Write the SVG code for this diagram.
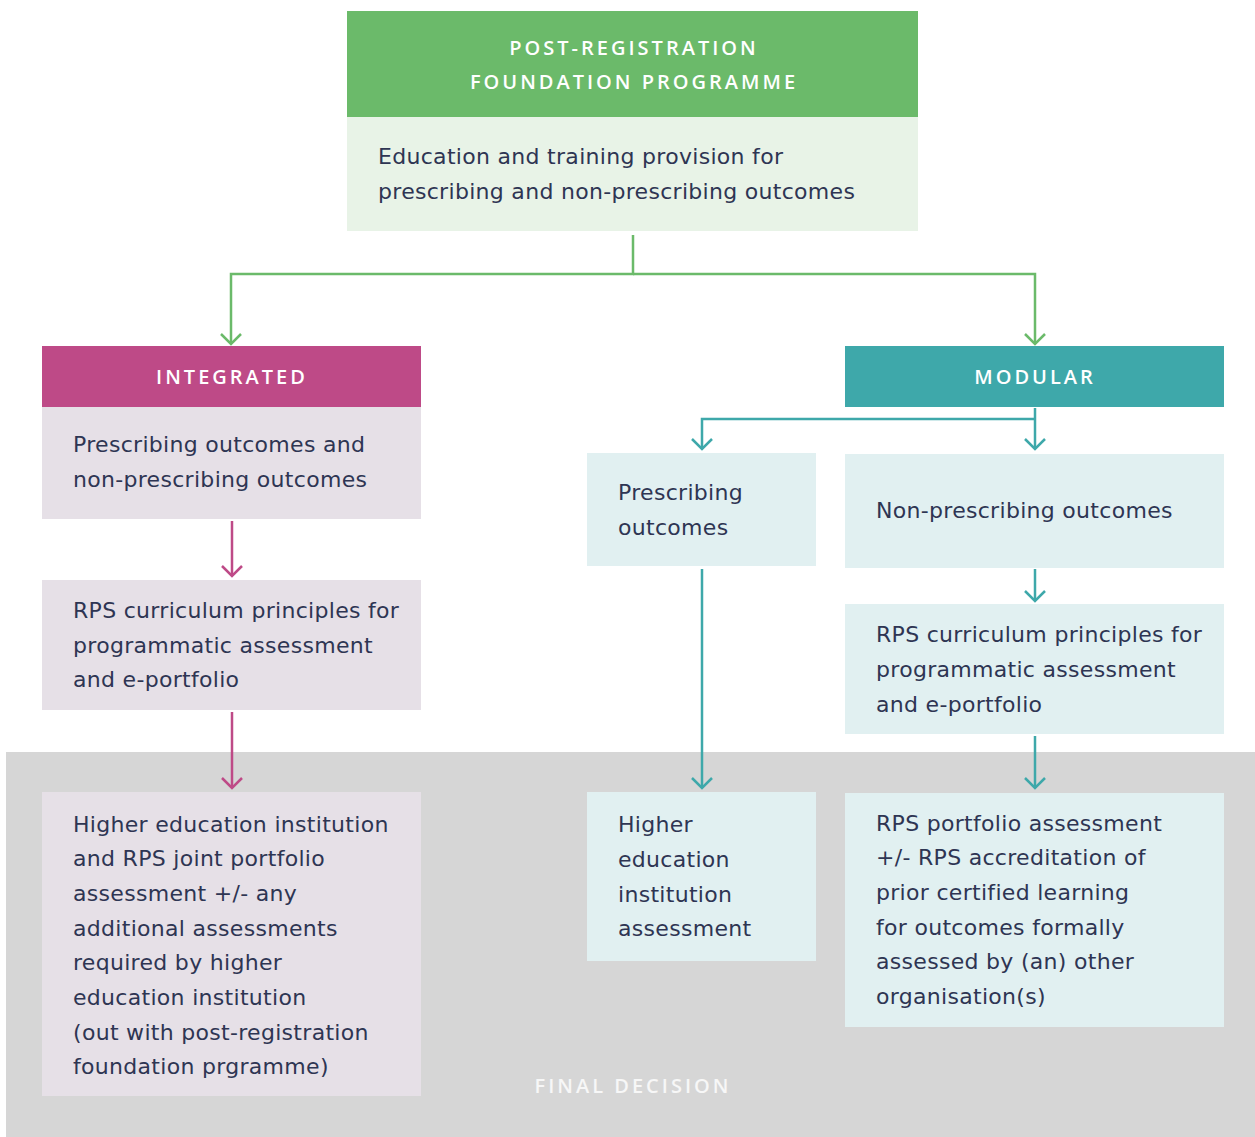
<svg xmlns="http://www.w3.org/2000/svg" width="1255" height="1137" viewBox="0 0 1255 1137">
<defs>
<style>
.t{font-family:"DejaVu Sans","Open Sans",sans-serif;font-size:22px;letter-spacing:0.3px;fill:#2E3553;}
.h{font-family:"Open Sans","Liberation Sans",sans-serif;font-size:20px;fill:#FFFFFF;letter-spacing:3px;text-anchor:middle;font-weight:600;}
.g{stroke:#6BBA6A;stroke-width:2.5;fill:none;}
.p{stroke:#BE4A87;stroke-width:2.5;fill:none;}
.c{stroke:#3EA8AA;stroke-width:2.5;fill:none;}
</style>
<marker id="ag" markerUnits="userSpaceOnUse" viewBox="-11 -11 22 22" refX="0" refY="0" markerWidth="22" markerHeight="22" orient="auto"><path d="M-10,-10 L0,0 L-10,10" fill="none" stroke="#6BBA6A" stroke-width="2.5"/></marker>
<marker id="ap" markerUnits="userSpaceOnUse" viewBox="-11 -11 22 22" refX="0" refY="0" markerWidth="22" markerHeight="22" orient="auto"><path d="M-10,-10 L0,0 L-10,10" fill="none" stroke="#BE4A87" stroke-width="2.5"/></marker>
<marker id="ac" markerUnits="userSpaceOnUse" viewBox="-11 -11 22 22" refX="0" refY="0" markerWidth="22" markerHeight="22" orient="auto"><path d="M-10,-10 L0,0 L-10,10" fill="none" stroke="#3EA8AA" stroke-width="2.5"/></marker>
</defs>
<rect width="1255" height="1137" fill="#FFFFFF"/>
<g id="final-decision">
<rect x="6" y="752" width="1249" height="385" fill="#D6D6D6"/>
<text x="633" y="1093" class="h" style="fill:#F7F7F7">FINAL DECISION</text>
</g>
<g id="foundation">
<rect x="347" y="11" width="571" height="106" fill="#6BBA6A"/>
<text class="h"><tspan x="634" y="55">POST-REGISTRATION</tspan><tspan x="634" y="89">FOUNDATION PROGRAMME</tspan></text>
<rect x="347" y="117" width="571" height="114" fill="#E8F3E7"/>
<text class="t"><tspan x="378" y="164">Education and training provision for</tspan><tspan x="378" y="199">prescribing and non-prescribing outcomes</tspan></text>
</g>
<g id="integrated">
<rect x="42" y="346" width="379" height="61" fill="#BE4A87"/>
<text x="232" y="384" class="h">INTEGRATED</text>
<rect x="42" y="407" width="379" height="112" fill="#E6E0E7"/>
<text class="t"><tspan x="73" y="452">Prescribing outcomes and</tspan><tspan x="73" y="487">non-prescribing outcomes</tspan></text>
</g>
<g id="int-curriculum">
<rect x="42" y="580" width="379" height="130" fill="#E6E0E7"/>
<text class="t"><tspan x="73" y="618">RPS curriculum principles for</tspan><tspan x="73" y="653">programmatic assessment</tspan><tspan x="73" y="687">and e-portfolio</tspan></text>
</g>
<g id="int-assessment">
<rect x="42" y="792" width="379" height="304" fill="#E6E0E7"/>
<text class="t"><tspan x="73" y="832">Higher education institution</tspan><tspan x="73" y="866">and RPS joint portfolio</tspan><tspan x="73" y="901">assessment +/- any</tspan><tspan x="73" y="936">additional assessments</tspan><tspan x="73" y="970">required by higher</tspan><tspan x="73" y="1005">education institution</tspan><tspan x="73" y="1040">(out with post-registration</tspan><tspan x="73" y="1074">foundation prgramme)</tspan></text>
</g>
<g id="modular">
<rect x="845" y="346" width="379" height="61" fill="#3EA8AA"/>
<text x="1035" y="384" class="h">MODULAR</text>
</g>
<g id="mod-prescribing">
<rect x="587" y="453" width="229" height="113" fill="#E1F0F1"/>
<text class="t"><tspan x="618" y="500">Prescribing</tspan><tspan x="618" y="535">outcomes</tspan></text>
</g>
<g id="mod-nonprescribing">
<rect x="845" y="454" width="379" height="114" fill="#E1F0F1"/>
<text x="876" y="518" class="t">Non-prescribing outcomes</text>
</g>
<g id="mod-curriculum">
<rect x="845" y="604" width="379" height="130" fill="#E1F0F1"/>
<text class="t"><tspan x="876" y="642">RPS curriculum principles for</tspan><tspan x="876" y="677">programmatic assessment</tspan><tspan x="876" y="712">and e-portfolio</tspan></text>
</g>
<g id="mod-hei">
<rect x="587" y="792" width="229" height="169" fill="#E1F0F1"/>
<text class="t"><tspan x="618" y="832">Higher</tspan><tspan x="618" y="867">education</tspan><tspan x="618" y="902">institution</tspan><tspan x="618" y="936">assessment</tspan></text>
</g>
<g id="mod-rps-assessment">
<rect x="845" y="793" width="379" height="234" fill="#E1F0F1"/>
<text class="t"><tspan x="876" y="831">RPS portfolio assessment</tspan><tspan x="876" y="865">+/- RPS accreditation of</tspan><tspan x="876" y="900">prior certified learning</tspan><tspan x="876" y="935">for outcomes formally</tspan><tspan x="876" y="969">assessed by (an) other</tspan><tspan x="876" y="1004">organisation(s)</tspan></text>
</g>
<g id="connectors">
<path class="g" d="M633,235 V274 H231 V344" marker-end="url(#ag)"/>
<path class="g" d="M633,274 H1035 V344" marker-end="url(#ag)"/>
<path class="p" d="M232,521 V576" marker-end="url(#ap)"/>
<path class="p" d="M232,712 V788" marker-end="url(#ap)"/>
<path class="c" d="M1035,408 V449" marker-end="url(#ac)"/>
<path class="c" d="M1035,419 H702 V449" marker-end="url(#ac)"/>
<path class="c" d="M702,569 V788" marker-end="url(#ac)"/>
<path class="c" d="M1035,569 V601" marker-end="url(#ac)"/>
<path class="c" d="M1035,736 V788" marker-end="url(#ac)"/>
</g>
</svg>
